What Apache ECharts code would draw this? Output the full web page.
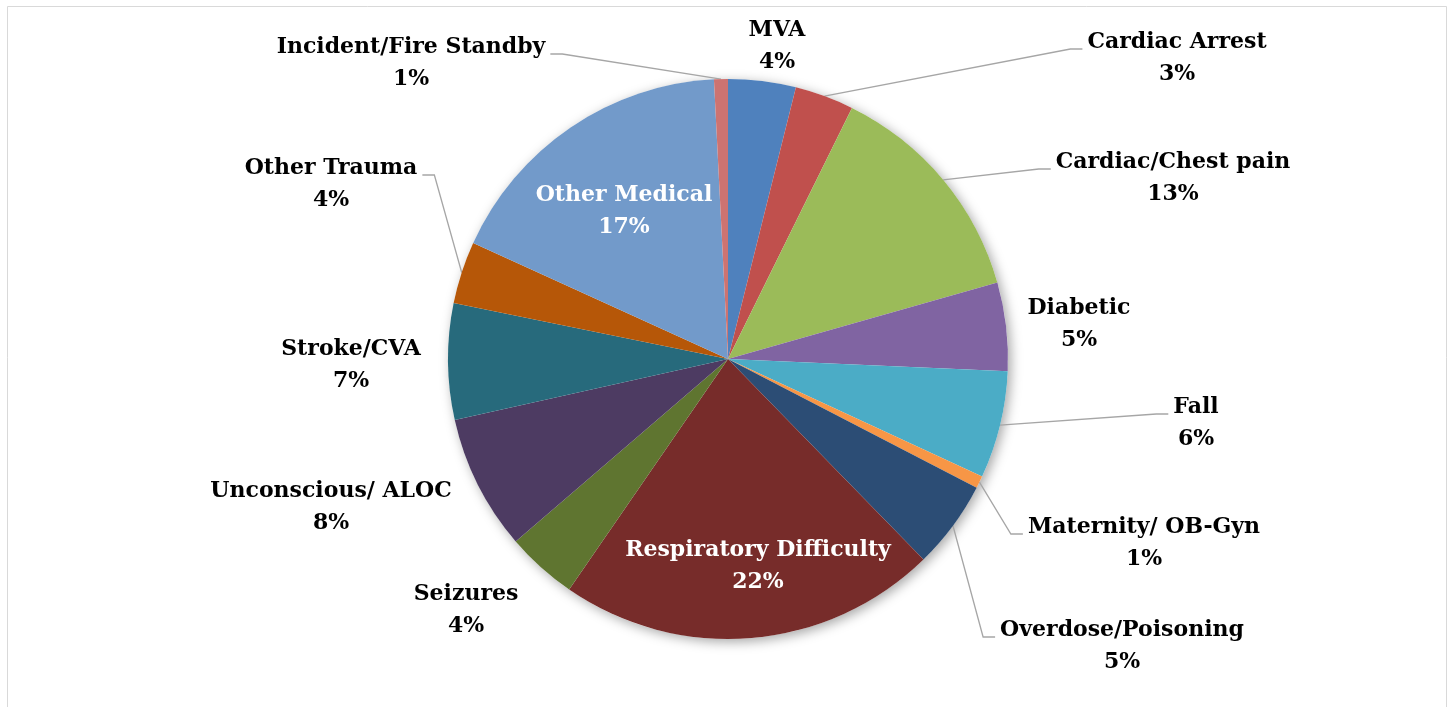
<!DOCTYPE html>
<html>
<head>
<meta charset="utf-8">
<script src="https://cdn.jsdelivr.net/npm/echarts/dist/echarts.min.js"></script>
<style>
html, body { margin: 0; padding: 0; background: #ffffff; }
#chart { width: 1453px; height: 707px; }
</style>
</head>
<body>
<div id="chart"></div>
<script>
// ---- data (percent of calls) ----
const categories = [
  'MVA', 'Cardiac Arrest', 'Cardiac/Chest pain', 'Diabetic', 'Fall',
  'Maternity/ OB-Gyn', 'Overdose/Poisoning', 'Respiratory Difficulty',
  'Seizures', 'Unconscious/ ALOC', 'Stroke/CVA', 'Other Trauma',
  'Other Medical', 'Incident/Fire Standby'
];
const values = [3.9, 3.4, 13.3, 5.1, 6.2, 0.7, 5.1, 21.9, 4.1, 7.8, 6.7, 3.6, 17.4, 0.8];

// ---- styles ----
const colors = [
  '#4F81BD', '#C0504D', '#9BBB59', '#8064A2', '#4BACC6',
  '#F79646', '#2C4D75', '#772C2A', '#5F7530', '#4D3B62',
  '#276A7C', '#B65708', '#729ACA', '#CD7371'
];
const CX = 728, CY = 359, R = 280;
// label placement: offset of label centre from the pie centre (px), leader side
const labelPlace = [
  { dx: 49,   dy: -313, side: null },
  { dx: 449,  dy: -301, side: 'left' },
  { dx: 445,  dy: -181, side: 'left' },
  { dx: 351,  dy: -35,  side: null },
  { dx: 468,  dy: 64,   side: 'left' },
  { dx: 416,  dy: 184,  side: 'left' },
  { dx: 394,  dy: 287,  side: 'left' },
  { dx: 30,   dy: 207,  side: null, inside: true },
  { dx: -262, dy: 251,  side: null },
  { dx: -397, dy: 148,  side: null },
  { dx: -377, dy: 6,    side: null },
  { dx: -397, dy: -175, side: 'right' },
  { dx: -104, dy: -148, side: null, inside: true },
  { dx: -317, dy: -296, side: 'right' }
];

const total = values.reduce((a, b) => a + b, 0);
const midAngles = [];
(function () {
  let cum = 0;
  values.forEach(v => {
    const frac = (cum + v / 2) / total;
    midAngles.push(Math.PI / 2 - frac * 2 * Math.PI);
    cum += v;
  });
})();

const chart = echarts.init(document.getElementById('chart'), null, { renderer: 'canvas' });

const seriesData = categories.map((name, i) => {
  const item = { name: name, value: values[i], itemStyle: { color: colors[i] } };
  if (labelPlace[i].inside) {
    item.label = { color: '#ffffff' };
    item.labelLine = { show: false };
  } else if (!labelPlace[i].side) {
    item.labelLine = { show: false };
  }
  return item;
});

const option = {
  backgroundColor: '#ffffff',
  animation: false,
  graphic: [{
    type: 'rect',
    silent: true,
    shape: { x: 7.5, y: 6.5, width: 1439, height: 760 },
    style: { fill: 'none', stroke: '#d9d9d9', lineWidth: 1 },
    z: 0
  }],
  series: [
    {
      type: 'pie',
      silent: true,
      center: [CX, CY],
      radius: R,
      z: 1,
      data: [{ value: 1, name: '' }],
      itemStyle: {
        color: '#ffffff',
        shadowBlur: 12,
        shadowColor: 'rgba(0,0,0,0.35)',
        shadowOffsetX: 3,
        shadowOffsetY: 3
      },
      label: { show: false },
      labelLine: { show: false },
      tooltip: { show: false }
    },
    {
      type: 'pie',
      center: [CX, CY],
      radius: R,
      z: 2,
      startAngle: 90,
      clockwise: true,
      avoidLabelOverlap: false,
      data: seriesData,
      itemStyle: { borderWidth: 0 },
      label: {
        show: true,
        position: 'outside',
        fontFamily: 'DejaVu Serif',
        fontWeight: 'bold',
        fontSize: 22,
        lineHeight: 32,
        color: '#000000',
        formatter: p => p.name + '\n' + Math.round(p.value) + '%'
      },
      labelLine: {
        show: true,
        lineStyle: { color: '#a6a6a6', width: 1.3 }
      },
      labelLayout: function (p) {
        const pl = labelPlace[p.dataIndex];
        const x = CX + pl.dx, y = CY + pl.dy;
        const res = { x: x, y: y, align: 'center', verticalAlign: 'middle' };
        if (pl.side) {
          const w = p.labelRect.width;
          const ly = y - 9;
          const ex = pl.side === 'left' ? x - w / 2 - 5 : x + w / 2 + 5;
          const bx = pl.side === 'left' ? ex - 12 : ex + 12;
          const a = midAngles[p.dataIndex];
          const sx = CX + R * Math.cos(a), sy = CY - R * Math.sin(a);
          res.labelLinePoints = [[sx, sy], [bx, ly], [ex, ly]];
        }
        return res;
      }
    }
  ]
};
chart.setOption(option);
</script>
</body>
</html>
